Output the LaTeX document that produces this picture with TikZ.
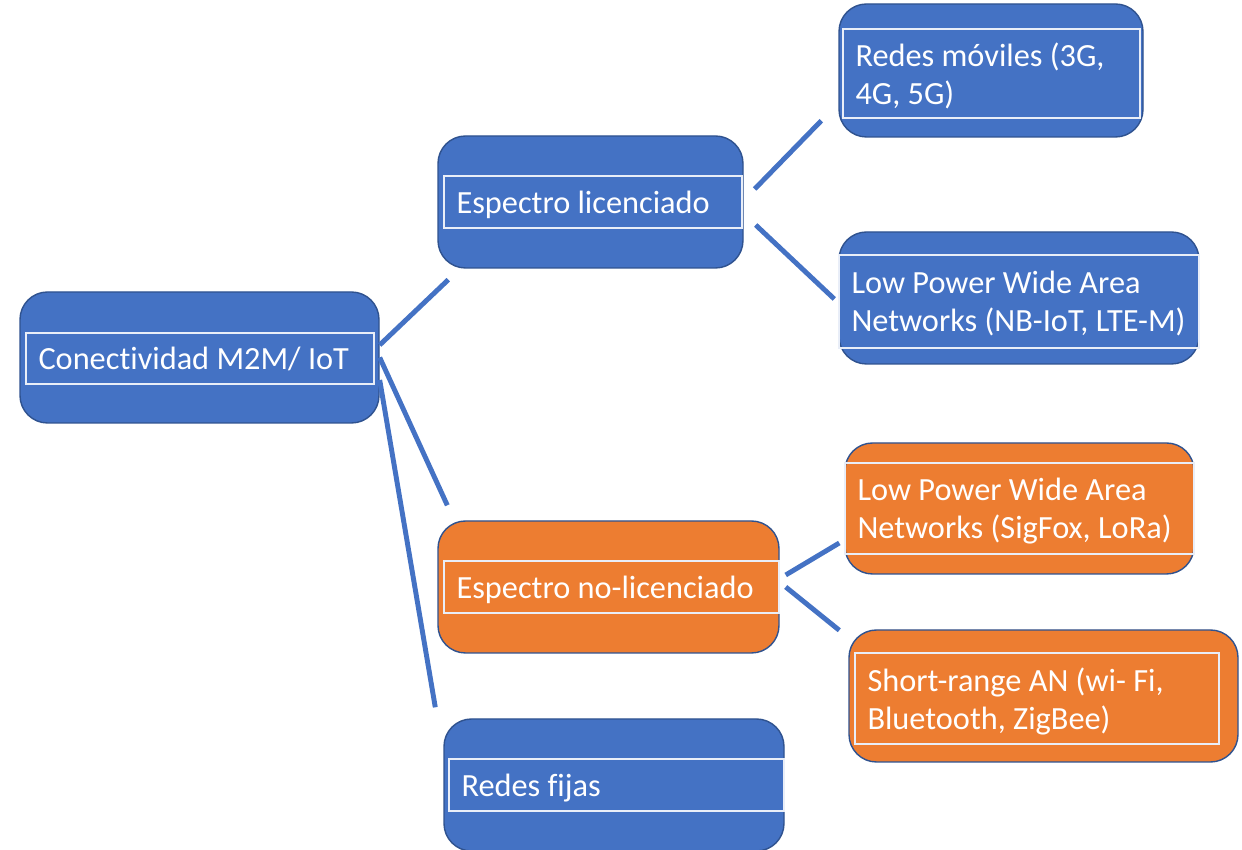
\documentclass[tikz,border=0pt]{standalone}
\usepackage{fontspec}
\setmainfont{Carlito}[Ligatures=NoCommon]
\definecolor{boxblue}{HTML}{4472C4}
\definecolor{boxorange}{HTML}{ED7D31}
\definecolor{rimblue}{HTML}{2F528F}

\begin{document}
\begin{tikzpicture}[
		box_style/.style={rectangle,rounded corners=0.55cm,draw=rimblue,line width=0.8pt,fill=boxblue},
		box_orange/.style={box_style,fill=boxorange},
		text_style/.style={rectangle,draw=white!88!boxblue,line width=0.6pt,text=white,align=flush left,
			inner xsep=0.25cm,inner ysep=0pt,text depth=0pt,font=\fontsize{18.4}{21.5}\selectfont},
		text_style2/.style={text_style,text depth=21.5pt},
		edge_style/.style={draw=boxblue,line width=2.8pt}]

		\useasboundingbox (0,0) rectangle (24.84,17);

		% outer boxes
		\node[box_style,minimum width=7.18cm,minimum height=2.62cm] (n0) at (3.99,9.85) {};
		\node[box_style,minimum width=6.10cm,minimum height=2.64cm] (n1) at (11.81,12.96) {};
		\node[box_style,minimum width=6.08cm,minimum height=2.66cm] (n2) at (19.82,15.59) {};
		\node[box_style,minimum width=7.20cm,minimum height=2.64cm] (n3) at (20.38,11.04) {};
		\node[box_orange,minimum width=6.82cm,minimum height=2.64cm] (n4) at (12.17,5.26) {};
		\node[box_orange,minimum width=6.98cm,minimum height=2.62cm] (n5) at (20.39,6.83) {};
		\node[box_orange,minimum width=7.78cm,minimum height=2.64cm] (n6) at (20.87,3.08) {};
		\node[box_style,minimum width=6.80cm,minimum height=2.64cm] (n7) at (12.28,1.30) {};

		% text frames
		\node[text_style,text width=6.46cm,minimum height=1.02cm] (t0) at (4.00,9.83) {Conectividad M2M/ IoT};
		\node[text_style,text width=5.46cm,minimum height=1.04cm] (t1) at (11.86,12.96) {Espectro licenciado};
		\node[text_style2,text width=5.44cm,minimum height=1.78cm] (t2) at (19.83,15.53) {Redes móviles (3G,\\4G, 5G)};
		\node[text_style2,text width=6.70cm,minimum height=1.86cm] (t3) at (20.38,10.97) {Low Power Wide Area\\Networks (NB-IoT, LTE-M)};
		\node[text_style,text width=6.20cm,minimum height=1.04cm] (t4) at (12.23,5.26) {Espectro no-licenciado};
		\node[text_style2,text width=6.48cm,minimum height=1.82cm] (t5) at (20.39,6.83) {Low Power Wide Area\\Networks (SigFox, LoRa)};
		\node[text_style2,text width=6.78cm,minimum height=1.82cm] (t6) at (20.74,3.03) {Short-range AN (wi- Fi,\\Bluetooth, ZigBee)};
		\node[text_style,text width=6.20cm,minimum height=1.04cm] (t7) at (12.33,1.30) {Redes fijas};

		% connectors
		\draw[edge_style] ([yshift=0.25cm]n0.east) -- ([shift={(0.22,-0.22)}]n1.south west);
		\draw[edge_style] (n0.east) -- ([shift={(0.2,0.3)}]n4.north west);
		\draw[edge_style] ([yshift=-0.45cm]n0.east) -- ([shift={(-0.16,0.22)}]n7.north west);
		\draw[edge_style] ([shift={(0.22,0.26)}]n1.east) -- ([shift={(-0.34,0.34)}]n2.south west);
		\draw[edge_style] ([shift={(0.24,-0.46)}]n1.east) -- ([shift={(-0.08,-0.02)}]n3.west);
		\draw[edge_style] ([shift={(0.12,0.24)}]n4.east) -- ([shift={(-0.1,-0.69)}]n5.west);
		\draw[edge_style] ([xshift=0.12cm]n4.east) -- ([shift={(-0.18,-0.02)}]n6.north west);

		\end{tikzpicture}
\end{document}
